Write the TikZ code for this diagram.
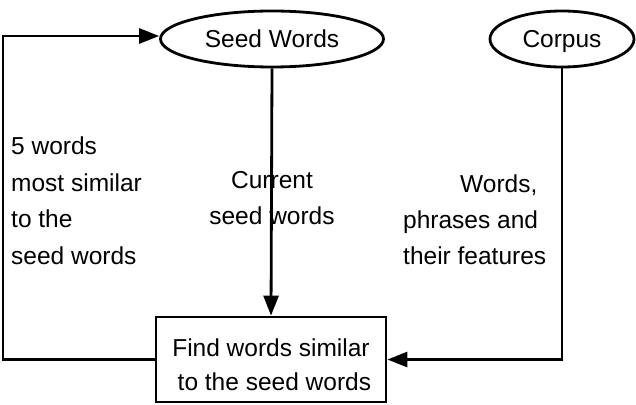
\documentclass[tikz,border=0pt]{standalone}
\usepackage{fontspec}
\setmainfont{Liberation Sans}
\usetikzlibrary{shapes.geometric,arrows.meta}
\begin{document}
\begin{tikzpicture}[x=1pt,y=-1pt,
  every node/.style={font=\fontsize{24.5}{36.5}\selectfont},
  conn/.style={line width=2.8pt,-{Triangle[length=20pt,width=15pt]}},
  oval/.style={ellipse,draw,line width=2.8pt,inner sep=0pt,text height=17.6pt,text depth=0pt},
  procbox/.style={rectangle,draw,line width=2.8pt,inner sep=0pt},
  lbl/.style={inner sep=0pt,anchor=base west,align=left}]
\useasboundingbox (0,0) rectangle (636,404);
\node[oval,minimum width=223pt,minimum height=56pt] (seed) at (272,39) {Seed Words};
\node[oval,minimum width=144pt,minimum height=56pt] (corpus) at (562,39) {Corpus};
\node[procbox,minimum width=230pt,minimum height=85pt,align=center,
  font=\fontsize{24.5}{34.5}\selectfont,text height=62pt,text depth=0pt] (find) at (271,359.5) {Find words similar\\\ to the seed words};
\coordinate (lb) at (3,359.5);
\coordinate (lt) at (3,36);
\coordinate (cr) at (562,359.5);
\draw[conn] (seed.south) -- (find.north);
\draw[conn] (corpus.south) -- (cr) -- (find.east);
\draw[conn] (find.west) -- (lb) -- (lt) -- (seed.west |- lt);
\node[lbl] (l1) at (11,264) {5 words\\most similar\\to the\\seed words};
\node[lbl,align=center,anchor=base,font=\fontsize{24.5}{36}\selectfont] (l2) at (272,224) {Current\\seed words};
\node[lbl,font=\fontsize{24.5}{36}\selectfont] (l3) at (403,264) {\hspace*{57pt}Words,\\phrases and\\their features};
\end{tikzpicture}
\end{document}
